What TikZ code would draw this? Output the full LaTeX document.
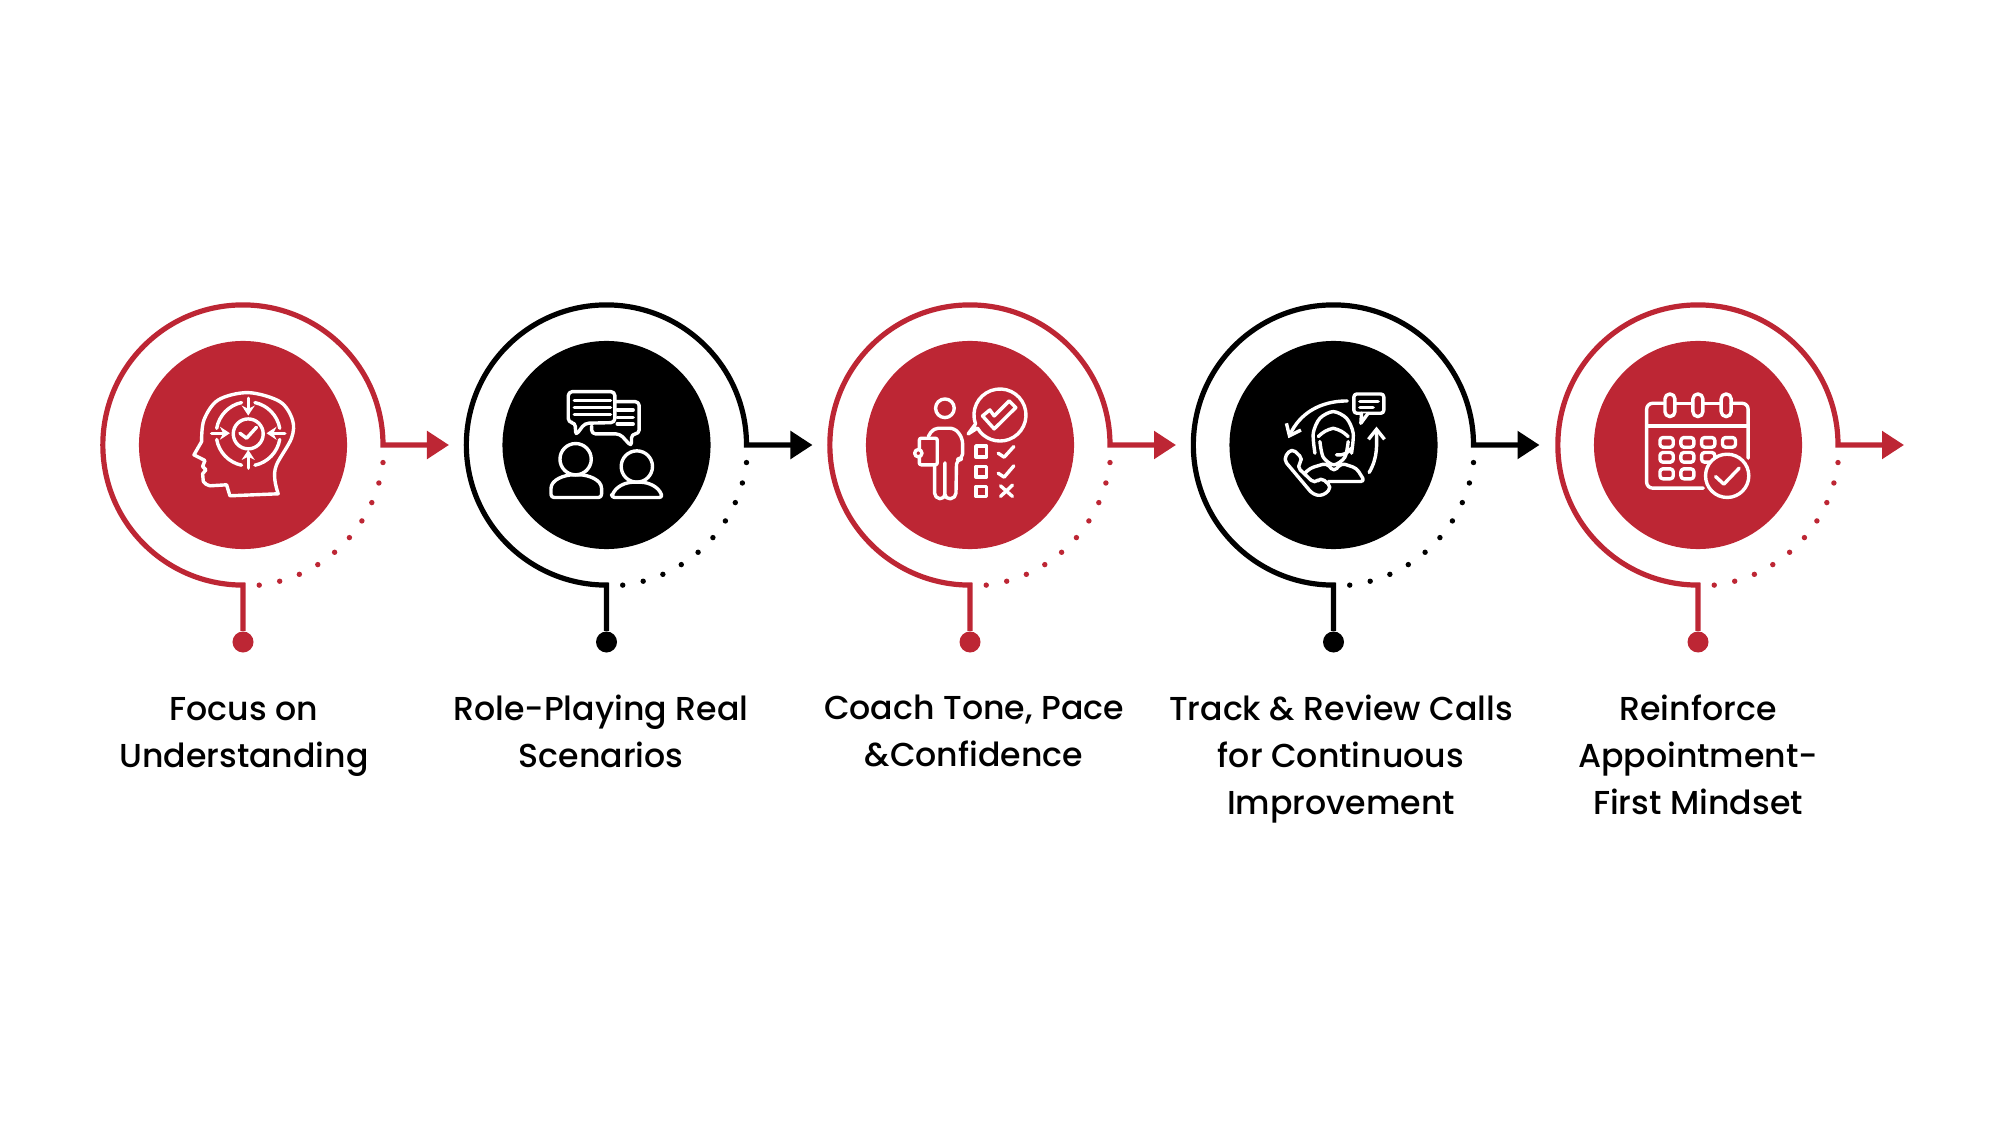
\documentclass[tikz,border=0pt]{standalone}
\usepackage{fontspec}
\setmainfont{Poppins Medium}
\usetikzlibrary{arrows.meta}
\definecolor{brandred}{HTML}{BD2634}

\begin{document}
\begin{tikzpicture}[
  x=0.01cm, y=-0.01cm,
  >={Triangle[length=2.2mm,width=2.7mm]},
  discred/.style={circle, fill=brandred, minimum size=2.08cm, inner sep=0pt},
  discblack/.style={circle, fill=black, minimum size=2.08cm, inner sep=0pt},
  pinred/.style={circle, fill=brandred, minimum size=2.1mm, inner sep=0pt},
  pinblack/.style={circle, fill=black, minimum size=2.1mm, inner sep=0pt},
  ringred/.style={draw=brandred, line width=0.52mm},
  ringblack/.style={draw=black, line width=0.52mm},
  dotsred/.style={draw=brandred, line width=0.54mm, line cap=round, dash pattern=on 0pt off 2.085mm},
  dotsblack/.style={draw=black, line width=0.54mm, line cap=round, dash pattern=on 0pt off 2.085mm},
  label/.style={font=\fontsize{9.43}{13.4}\selectfont, align=center, anchor=north, inner sep=0pt},
  icon/.style={draw=white, line width=0.34mm, line cap=round, line join=round},
  iconarrow/.style={icon, -{Stealth[length=1mm,width=1.3mm]}},
  iconbarb/.style={icon, -{Straight Barb[length=1mm,width=1.6mm]}},
  iconscope/.style={x=0.00333cm, y=-0.00333cm}
]

\useasboundingbox (0,0) rectangle (2000,1125);

% Discs
\node[discred]   (disc1) at (243,445) {};
\node[discblack] (disc2) at (606.5,445) {};
\node[discred]   (disc3) at (970,445) {};
\node[discblack] (disc4) at (1333.5,445) {};
\node[discred]   (disc5) at (1698,445) {};

% Pins under the rings
\node[pinred]   (pin1) at (243,642) {};
\node[pinblack] (pin2) at (606.5,642) {};
\node[pinred]   (pin3) at (970,642) {};
\node[pinblack] (pin4) at (1333.5,642) {};
\node[pinred]   (pin5) at (1698,642) {};

% Ring starts and arrow ends
\coordinate (start1) at (383,445);
\coordinate (start2) at (746.5,445);
\coordinate (start3) at (1110,445);
\coordinate (start4) at (1473.5,445);
\coordinate (start5) at (1838,445);
\coordinate (tip1) at (449,445);
\coordinate (tip2) at (812.5,445);
\coordinate (tip3) at (1176,445);
\coordinate (tip4) at (1539.5,445);
\coordinate (tip5) at (1904,445);

% Rings with arrow and stem
\draw[ringred,<-]   (tip1) -- (start1) arc[start angle=0,end angle=270,radius=1.4cm] -- (pin1);
\draw[ringblack,<-] (tip2) -- (start2) arc[start angle=0,end angle=270,radius=1.4cm] -- (pin2);
\draw[ringred,<-]   (tip3) -- (start3) arc[start angle=0,end angle=270,radius=1.4cm] -- (pin3);
\draw[ringblack,<-] (tip4) -- (start4) arc[start angle=0,end angle=270,radius=1.4cm] -- (pin4);
\draw[ringred,<-]   (tip5) -- (start5) arc[start angle=0,end angle=270,radius=1.4cm] -- (pin5);

% Dotted part of the rings
\draw[dotsred]   (disc1.center) ++(-83.4:1.41cm) arc[start angle=-83.4,end angle=-7,radius=1.41cm];
\draw[dotsblack] (disc2.center) ++(-83.4:1.41cm) arc[start angle=-83.4,end angle=-7,radius=1.41cm];
\draw[dotsred]   (disc3.center) ++(-83.4:1.41cm) arc[start angle=-83.4,end angle=-7,radius=1.41cm];
\draw[dotsblack] (disc4.center) ++(-83.4:1.41cm) arc[start angle=-83.4,end angle=-7,radius=1.41cm];
\draw[dotsred]   (disc5.center) ++(-83.4:1.41cm) arc[start angle=-83.4,end angle=-7,radius=1.41cm];

% Labels
\node[label] (label1) at (244,697) {Focus on\\Understanding};
\node[label] (label2) at (601,694) {Role-Playing Real\\Scenarios};
\node[label] (label3) at (974,694) {Coach Tone, Pace\\\&Confidence};
\node[label] (label4) at (1341,694) {Track \& Review Calls\\for Continuous\\Improvement};
\node[label] (label5) at (1698,694) {Reinforce\\Appointment-\\First Mindset};

% Head icon
\begin{scope}[shift={(180,370)}, iconscope]
  \draw[icon] plot[smooth, tension=0.55] coordinates {(295,372) (285,330) (290,285) (335,205) (338,150) (300,95) (205,68) (115,90) (72,150) (65,215)} -- (42,255) -- (75,272) -- (68,290) -- (78,300) -- (68,312) -- (70,335) to[bend right=20] (90,348) -- (140,345) -- (150,378) -- cycle;
  \draw[icon] (205,192) circle[radius=45];
  \draw[icon] (180,190) -- (200,205) -- (230,172);
  \draw[icon] (205,192) ++(102:0.32cm) arc[start angle=102,end angle=170,radius=0.32cm];
  \draw[icon] (205,192) ++(10:0.32cm) arc[start angle=10,end angle=78,radius=0.32cm];
  \draw[icon] (205,192) ++(190:0.32cm) arc[start angle=190,end angle=258,radius=0.32cm];
  \draw[icon] (205,192) ++(282:0.32cm) arc[start angle=282,end angle=350,radius=0.32cm];
  \draw[iconarrow] (205,85) -- (205,137);
  \draw[iconarrow] (205,295) -- (205,240);
  \draw[iconarrow] (95,190) -- (150,190);
  \draw[iconarrow] (315,190) -- (260,190);
\end{scope}

% Chat icon
\begin{scope}[shift={(540,370)}, iconscope]
  \draw[icon, rounded corners=0.4mm] (225,120) -- (225,65) -- (85,65) -- (85,158) -- (106,158) -- (107,197) -- (135,160) -- (225,158) -- cycle;
  \draw[icon, rounded corners=0.4mm] (226,95) -- (298,95) -- (298,192) -- (275,192) -- (275,230) -- (240,192) -- (155,192) -- (155,168);
  \draw[icon] (103,92) -- (212,92);
  \draw[icon] (103,113) -- (212,113);
  \draw[icon] (103,133) -- (212,133);
  \draw[icon] (232,120) -- (280,120);
  \draw[icon] (232,142) -- (280,142);
  \draw[icon] (232,162) -- (280,162);
  \draw[icon] (107,268) circle[radius=47];
  \draw[icon] (291,290) circle[radius=47];
  \draw[icon, rounded corners=0.3mm] (33,383) -- (185,383) -- (185,365) to[out=90,in=0] (109,315) to[out=180,in=90] (33,365) -- cycle;
  \draw[icon, rounded corners=0.3mm] (215,383) -- (368,383) to[out=110,in=0] (291,337) to[out=180,in=70] (215,383) -- cycle;
\end{scope}

% Checklist icon
\begin{scope}[shift={(890,370)}, iconscope]
  \draw[icon] (165,115) circle[radius=28];
  \draw[icon, rounded corners=0.5mm] (115,200) -- (130,175) -- (195,175) -- (218,205) -- (218,268) -- (200,268) -- (198,385) -- (165,388) -- (165,270) -- (165,388) -- (134,385) -- (134,285);
  \draw[icon, rounded corners=0.2mm] (88,205) rectangle (142,285);
  \draw[icon, fill=brandred] (85,250) circle[radius=11];
  \draw[icon] (257,162) arc[start angle=200,end angle=-150,radius=0.26cm] -- (235,192) -- cycle;
  \draw[icon] (278,138) -- (300,120) -- (313,138) -- (358,93) -- (378,113) -- (313,177) -- cycle;
  \draw[icon] (258,228) rectangle (290,262);
  \draw[icon] (258,290) rectangle (290,322);
  \draw[icon] (258,350) rectangle (290,380);
  \draw[icon] (325,250) -- (343,262) -- (372,230);
  \draw[icon] (325,310) -- (343,322) -- (372,288);
  \draw[icon] (332,348) -- (368,380);
  \draw[icon] (332,380) -- (368,346);
\end{scope}

% Call review icon
\begin{scope}[shift={(1260,370)}, iconscope]
  \draw[icon, rounded corners=0.3mm] (282,72) rectangle (372,130);
  \draw[icon, fill=black] (325,130) -- (303,160) -- (305,130);
  \draw[icon] (300,95) -- (355,95);
  \draw[icon] (300,113) -- (340,113);
  \draw[icon] plot[smooth] coordinates {(165,250) (160,190) (180,145) (220,125) (260,145) (280,190) (275,250)};
  \draw[icon] (175,200) to[bend left=15] (220,175) to[bend left=15] (265,200);
  \draw[icon] plot[smooth] coordinates {(180,215) (190,262) (222,285) (255,262) (265,215)};
  \draw[icon] (275,235) to[bend left=30] (230,255);
  \draw[icon, rounded corners=0.4mm] (135,310) -- (150,295) -- (200,280) -- (222,305) -- (245,280) -- (290,295) -- (315,335) -- (205,335);
  \draw[icon, fill=black, rounded corners=0.5mm] (70,268) -- (95,235) -- (130,268) -- (110,290) -- (165,342) -- (182,322) -- (216,352) -- (190,378) -- (160,375) -- cycle;
  \draw[iconbarb] (262,93) to[out=180,in=65] (85,205);
  \draw[iconbarb] (328,308) to[out=60,in=270] (350,170);
\end{scope}

% Calendar icon
\begin{scope}[shift={(1620,370)}, iconscope]
  \draw[icon, rounded corners=0.6mm] (250,355) -- (80,355) -- (80,100) -- (130,100);
  \draw[icon] (165,100) -- (218,100);
  \draw[icon] (250,100) -- (302,100);
  \draw[icon, rounded corners=0.6mm] (334,100) -- (385,100) -- (385,265);
  \draw[icon] (80,168) -- (385,168);
  \draw[icon, rounded corners=0.49mm] (135,72) rectangle (165,140);
  \draw[icon, rounded corners=0.49mm] (219,72) rectangle (249,140);
  \draw[icon, rounded corners=0.49mm] (304,72) rectangle (334,140);
  \draw[icon, rounded corners=0.3mm] (120,203) rectangle (160,232);
  \draw[icon, rounded corners=0.3mm] (183,203) rectangle (222,232);
  \draw[icon, rounded corners=0.3mm] (245,203) rectangle (285,232);
  \draw[icon, rounded corners=0.3mm] (308,203) rectangle (347,232);
  \draw[icon, rounded corners=0.3mm] (120,248) rectangle (160,277);
  \draw[icon, rounded corners=0.3mm] (183,248) rectangle (222,277);
  \draw[icon, rounded corners=0.3mm] (245,248) rectangle (285,277);
  \draw[icon, rounded corners=0.3mm] (120,297) rectangle (160,327);
  \draw[icon, rounded corners=0.3mm] (183,297) rectangle (222,327);
  \draw[icon, fill=brandred] (322,318) circle[radius=65];
  \draw[icon] (287,320) -- (312,343) -- (358,295);
\end{scope}

\end{tikzpicture}
\end{document}
